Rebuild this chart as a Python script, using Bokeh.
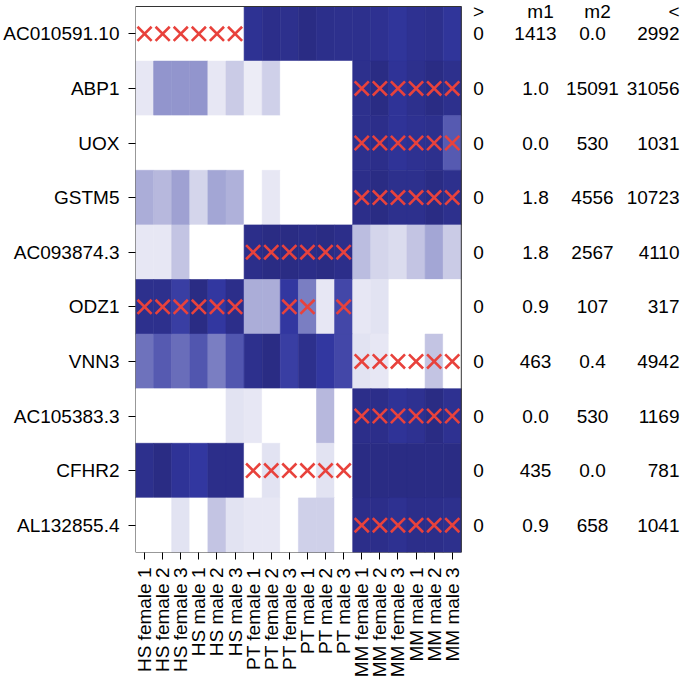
import math
from bokeh.plotting import figure
from bokeh.models import Range1d, FixedTicker, ColumnDataSource
from bokeh.core.properties import value
from bokeh.embed import file_html
from bokeh.resources import INLINE

genes = ["AC010591.10", "ABP1", "UOX", "GSTM5", "AC093874.3",
         "ODZ1", "VNN3", "AC105383.3", "CFHR2", "AL132855.4"]
samples = ["HS female 1", "HS female 2", "HS female 3", "HS male 1", "HS male 2", "HS male 3",
           "PT female 1", "PT female 2", "PT female 3", "PT male 1", "PT male 2", "PT male 3",
           "MM female 1", "MM female 2", "MM female 3", "MM male 1", "MM male 2", "MM male 3"]

# relative expression (0 = white, 1 = darkest) per gene, one value per sample
v_AC010591_10 = [0, 0, 0, 0, 0, 0, .92, .97, .95, 1.0, .96, .95, .95, .93, .88, .93, .95, .88]
v_ABP1 = [.1, .45, .45, .45, .1, .22, .08, .2, 0, 0, 0, 0, .95, 1.0, .9, .95, 1.0, .95]
v_UOX = [0, 0, 0, 0, 0, 0, 0, 0, 0, 0, 0, 0, .95, .97, .9, .93, .95, .7]
v_GSTM5 = [.35, .3, .4, .18, .38, .33, 0, .1, 0, 0, 0, 0, .97, 1.0, .95, .95, 1.0, .95]
v_AC093874_3 = [.1, .1, .25, 0, 0, 0, .97, 1.0, 1.0, .98, 1.0, .97, .28, .18, .15, .25, .38, .22]
v_ODZ1 = [.95, .95, .82, 1.0, .85, .97, .35, .35, .85, .55, .1, .78, .1, .12, 0, 0, 0, 0]
v_VNN3 = [.6, .7, .62, .72, .55, .72, .95, 1.0, .82, .95, .85, .78, .12, .1, 0, 0, .25, 0]
v_AC105383_3 = [0, 0, 0, 0, 0, .12, .1, 0, 0, 0, .3, 0, .97, .97, .9, .93, 1.0, .93]
v_CFHR2 = [.95, 1.0, .9, .85, .97, .97, 0, .12, 0, 0, .12, 0, 1.0, 1.0, 1.0, 1.0, 1.0, 1.0]
v_AL132855_4 = [0, 0, .12, 0, .25, .12, .1, .1, 0, .2, .2, 0, .97, .97, .93, .97, .97, .95]

# sample indices marked with a red cross, per gene
x_AC010591_10 = [0, 1, 2, 3, 4, 5]
x_ABP1 = [12, 13, 14, 15, 16, 17]
x_UOX = [12, 13, 14, 15, 16, 17]
x_GSTM5 = [12, 13, 14, 15, 16, 17]
x_AC093874_3 = [6, 7, 8, 9, 10, 11]
x_ODZ1 = [0, 1, 2, 3, 4, 5, 8, 9, 11]
x_VNN3 = [12, 13, 14, 15, 16, 17]
x_AC105383_3 = [12, 13, 14, 15, 16, 17]
x_CFHR2 = [6, 7, 8, 9, 10, 11]
x_AL132855_4 = [12, 13, 14, 15, 16, 17]

# side table
col_headers = [">", "m1", "m2", "<"]
col_gt = ["0", "0", "0", "0", "0", "0", "0", "0", "0", "0"]
col_m1 = ["1413", "1.0", "0.0", "1.8", "1.8", "0.9", "463", "0.0", "435", "0.9"]
col_m2 = ["0.0", "15091", "530", "4556", "2567", "107", "0.4", "530", "0.0", "658"]
col_lt = ["2992", "31056", "1031", "10723", "4110", "317", "4942", "1169", "781", "1041"]

rows = [v_AC010591_10, v_ABP1, v_UOX, v_GSTM5, v_AC093874_3,
        v_ODZ1, v_VNN3, v_AC105383_3, v_CFHR2, v_AL132855_4]
marks = [x_AC010591_10, x_ABP1, x_UOX, x_GSTM5, x_AC093874_3,
         x_ODZ1, x_VNN3, x_AC105383_3, x_CFHR2, x_AL132855_4]

STOPS = [(0.0, (255, 255, 255)), (0.85, (50, 55, 160)), (1.0, (42, 44, 132))]


def shade(t):
    for (t0, c0), (t1, c1) in zip(STOPS, STOPS[1:]):
        if t <= t1:
            f = (t - t0) / (t1 - t0)
            return "#%02x%02x%02x" % tuple(round(a + (b - a) * f) for a, b in zip(c0, c1))
    return "#%02x%02x%02x" % STOPS[-1][1]


hx, hy, hc = [], [], []
for i, row in enumerate(rows):
    for j, v in enumerate(row):
        hx.append(j)
        hy.append(i)
        hc.append(shade(v))

mx, my = [], []
for i, cols in enumerate(marks):
    for j in cols:
        mx.append(j)
        my.append(i)

FONT = "Liberation Sans"
FS = "19px"
W, H = 680, 680
LEFT, TOP_BOX, BOTTOM_BOX = 135, 6, 552
ROW_H = (BOTTOM_BOX - TOP_BOX) / 10.0
PX = 18.1  # pixels per column
FRAME_W = W - LEFT

p = figure(width=W, height=H, output_backend="svg", toolbar_location=None,
           x_range=Range1d(-0.5, -0.5 + FRAME_W / PX),
           y_range=Range1d(9.5, -0.5 - TOP_BOX / ROW_H),
           min_border_left=LEFT, min_border_right=0, min_border_top=0,
           min_border_bottom=H - BOTTOM_BOX)
p.outline_line_color = None
p.grid.visible = False
p.background_fill_color = "white"

src = ColumnDataSource(dict(x=hx, y=hy, c=hc))
p.rect(x="x", y="y", width=1, height=1, fill_color="c", line_color="c", line_width=0.6, source=src)

p.scatter(x=mx, y=my, marker="x", size=20, line_color="#e8423c", line_width=2.6)

# frame box around the heatmap
p.quad(left=[-0.5], right=[len(samples) - 0.5], top=[-0.5], bottom=[len(genes) - 0.5],
       fill_color=None, line_color="#333333", line_width=1)

# axes
p.xaxis.ticker = FixedTicker(ticks=list(range(len(samples))))
p.xaxis.major_label_overrides = {j: s for j, s in enumerate(samples)}
p.xaxis.major_label_orientation = math.pi / 2
p.yaxis.ticker = FixedTicker(ticks=list(range(len(genes))))
p.yaxis.major_label_overrides = {i: g for i, g in enumerate(genes)}
for ax in (p.xaxis, p.yaxis):
    ax.axis_line_color = None
    ax.major_tick_in = 0
    ax.major_tick_out = 7
    ax.major_tick_line_color = "black"
    ax.minor_tick_line_color = None
    ax.major_label_text_font = FONT
    ax.major_label_text_font_size = FS
    ax.major_label_text_color = "black"
p.xaxis.major_label_standoff = 8
p.yaxis.major_label_standoff = 9


def ux(px):
    return (px - LEFT) / PX - 0.5


yidx = list(range(len(genes)))
txt = dict(text_font=value(FONT), text_font_size=FS, text_color="black", text_baseline="middle")
p.text(x=[ux(478)] * 10, y=yidx, text=col_gt, text_align="center", **txt)
p.text(x=[ux(535)] * 10, y=yidx, text=col_m1, text_align="center", **txt)
p.text(x=[ux(592)] * 10, y=yidx, text=col_m2, text_align="center", **txt)
p.text(x=[ux(679)] * 10, y=yidx, text=col_lt, text_align="right", **txt)

hy0 = -0.5 + 4.5 / ROW_H
p.text(x=[ux(478), ux(540), ux(597)], y=[hy0] * 3, text=col_headers[:3], text_align="center", **txt)
p.text(x=[ux(679)], y=[hy0], text=col_headers[3:], text_align="right", **txt)

open("out.html", "w").write(file_html(p, INLINE))
